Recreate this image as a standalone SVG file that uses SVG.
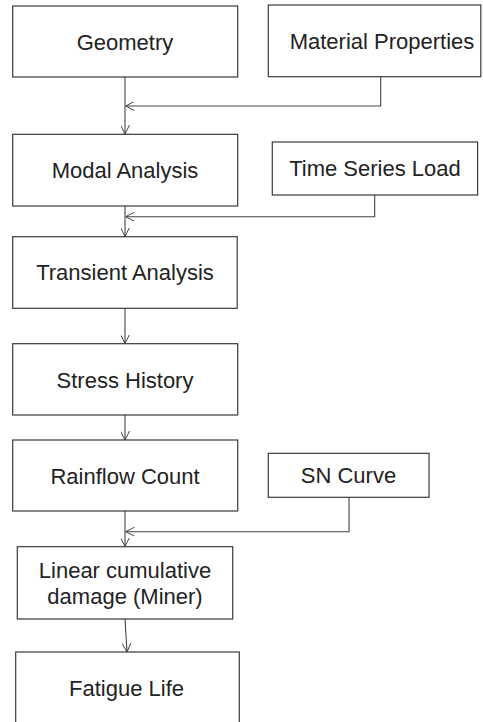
<svg xmlns="http://www.w3.org/2000/svg" width="483" height="722" viewBox="0 0 483 722">
<defs>
<marker id="arr" viewBox="0 0 10 10" refX="10" refY="5" markerWidth="9" markerHeight="9" markerUnits="userSpaceOnUse" orient="auto">
<path d="M0,0 L10,5 L0,10" fill="none" stroke="#333" stroke-width="1"/>
</marker>
<style>
.box{fill:#fff;stroke:#3a3a3a;stroke-width:1.2}
.t{font-family:"Liberation Sans",Arial,sans-serif;font-size:22px;fill:#222;text-anchor:middle;dominant-baseline:central}
.c{fill:none;stroke:#444;stroke-width:1.1;marker-end:url(#arr)}
</style>
</defs>
<rect width="483" height="722" fill="#fff"/>
<g id="connectors">
<path class="c" d="M125,77 V134"/>
<path class="c" d="M380.7,76.7 V106 H125.5"/>
<path class="c" d="M125,206 V236.5"/>
<path class="c" d="M374.7,195 V216.7 H125.5"/>
<path class="c" d="M125,308 V343.5"/>
<path class="c" d="M125,415 V440"/>
<path class="c" d="M125,511 V546.5"/>
<path class="c" d="M349,497.3 V531.7 H125.5"/>
<path class="c" d="M125,619 L127,652"/>
</g>
<g id="geometry"><rect class="box" x="12.7" y="6" width="225" height="71"/><text class="t" x="125" y="42">Geometry</text></g>
<g id="material"><rect class="box" x="268.3" y="5" width="212.5" height="71.7"/><text class="t" x="382" y="41">Material Properties</text></g>
<g id="modal"><rect class="box" x="12.7" y="134.3" width="225" height="71.7"/><text class="t" x="125" y="170">Modal Analysis</text></g>
<g id="timeseries"><rect class="box" x="272.3" y="142" width="205.3" height="53"/><text class="t" x="375" y="168">Time Series Load</text></g>
<g id="transient"><rect class="box" x="12.7" y="236.7" width="224.5" height="71.6"/><text class="t" x="125" y="272.5">Transient Analysis</text></g>
<g id="stress"><rect class="box" x="12.7" y="343.7" width="225" height="71.3"/><text class="t" x="125" y="380">Stress History</text></g>
<g id="rainflow"><rect class="box" x="12.7" y="440" width="225" height="71"/><text class="t" x="125" y="476">Rainflow Count</text></g>
<g id="sncurve"><rect class="box" x="268.3" y="453.3" width="160.7" height="44"/><text class="t" x="348.5" y="475.5">SN Curve</text></g>
<g id="linear"><rect class="box" x="17.3" y="546.7" width="215.4" height="72.3"/><text class="t" x="125" y="570">Linear cumulative</text><text class="t" x="125" y="596.5">damage (Miner)</text></g>
<g id="fatigue"><rect class="box" x="15.7" y="652" width="223.6" height="80"/><text class="t" x="126.5" y="688">Fatigue Life</text></g>
</svg>
